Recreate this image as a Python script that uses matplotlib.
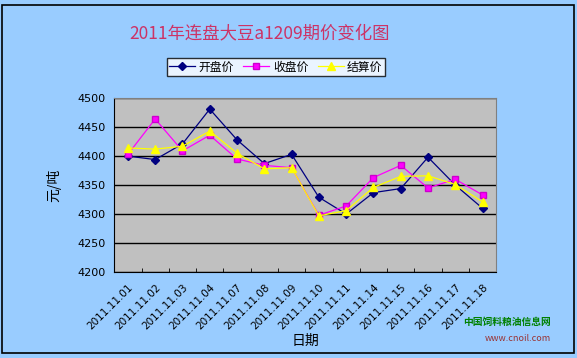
import matplotlib
matplotlib.use('Agg')
import matplotlib.pyplot as plt
from matplotlib.patches import Rectangle
import numpy as np

plt.rcParams['font.family'] = ['Noto Sans CJK SC', 'DejaVu Sans']

# data
dates = ['2011.11.01', '2011.11.02', '2011.11.03', '2011.11.04', '2011.11.07',
         '2011.11.08', '2011.11.09', '2011.11.10', '2011.11.11', '2011.11.14',
         '2011.11.15', '2011.11.16', '2011.11.17', '2011.11.18']
open_price = [4400, 4394, 4421, 4481, 4428, 4387, 4403, 4329, 4300, 4337,
              4344, 4398, 4350, 4310]
close_price = [4403, 4464, 4409, 4436, 4395, 4384, 4380, 4298, 4314, 4363,
               4384, 4345, 4360, 4333]
settle_price = [4414, 4412, 4417, 4443, 4405, 4378, 4380, 4297, 4306, 4346,
                4365, 4366, 4351, 4321]

bg = '#99ccff'
fig = plt.figure(figsize=(5.77, 3.58), dpi=100, facecolor=bg)
fig.patches.append(Rectangle((0.004, 0.014), 0.99, 0.972, transform=fig.transFigure,
                             fill=False, edgecolor='black', linewidth=1.2))

ax = fig.add_axes([0.198, 0.240, 0.662, 0.486])
ax.set_facecolor('#c0c0c0')

x = np.arange(len(dates))
ax.plot(x, open_price, color='#000080', linewidth=0.9, marker='D', markersize=4,
        label='开盘价', zorder=3)
ax.plot(x, close_price, color='#ff00ff', linewidth=0.9, marker='s', markersize=5,
        markeredgecolor='#cc00cc', label='收盘价', zorder=3)
ax.plot(x, settle_price, color='#ffff00', linewidth=0.9, marker='^', markersize=6,
        label='结算价', zorder=3)

ax.set_xlim(-0.5, len(dates) - 0.5)
ax.set_ylim(4200, 4500)
ax.set_yticks(np.arange(4200, 4501, 50))
ax.yaxis.grid(True, color='black', linewidth=1)
ax.set_axisbelow(True)

ax.set_xticks(x)
ax.set_xticklabels(dates, rotation=45, ha='right', rotation_mode='anchor',
                   fontsize=7.5, family='DejaVu Sans')
ax.set_xticks(np.arange(-0.5, len(dates)), minor=True)
ax.tick_params(axis='x', which='major', length=0, pad=7)
ax.tick_params(axis='x', which='minor', length=3, direction='in')
ax.tick_params(axis='y', length=0, labelsize=8, pad=6)
for lbl in ax.get_yticklabels():
    lbl.set_family('DejaVu Sans')

for s in ax.spines.values():
    s.set_color('#808080')
ax.spines['bottom'].set_color('black')
ax.spines['left'].set_color('black')

ax.set_xlabel('日期', fontsize=10, labelpad=2)
ax.set_ylabel('元/吨', fontsize=10, labelpad=12)

fig.text(0.45, 0.908, '2011年连盘大豆a1209期价变化图', ha='center', va='center',
         fontsize=12.5, color='#cc3366')

leg = fig.legend(loc='center', bbox_to_anchor=(0.478, 0.813), ncol=3, frameon=True,
                 fancybox=False, edgecolor='black', fontsize=8.5, handlelength=2.2,
                 borderpad=0.2, columnspacing=0.8, handletextpad=0.3)
leg.get_frame().set_linewidth(1)

fig.text(0.955, 0.1, '中国饲料粮油信息网', ha='right', va='center',
         fontsize=7, color='#008000', fontweight='bold')
fig.text(0.955, 0.055, 'www.cnoil.com', ha='right', va='center',
         fontsize=6.5, color='#993333')

fig.savefig('out.png', dpi=100, facecolor=bg)
